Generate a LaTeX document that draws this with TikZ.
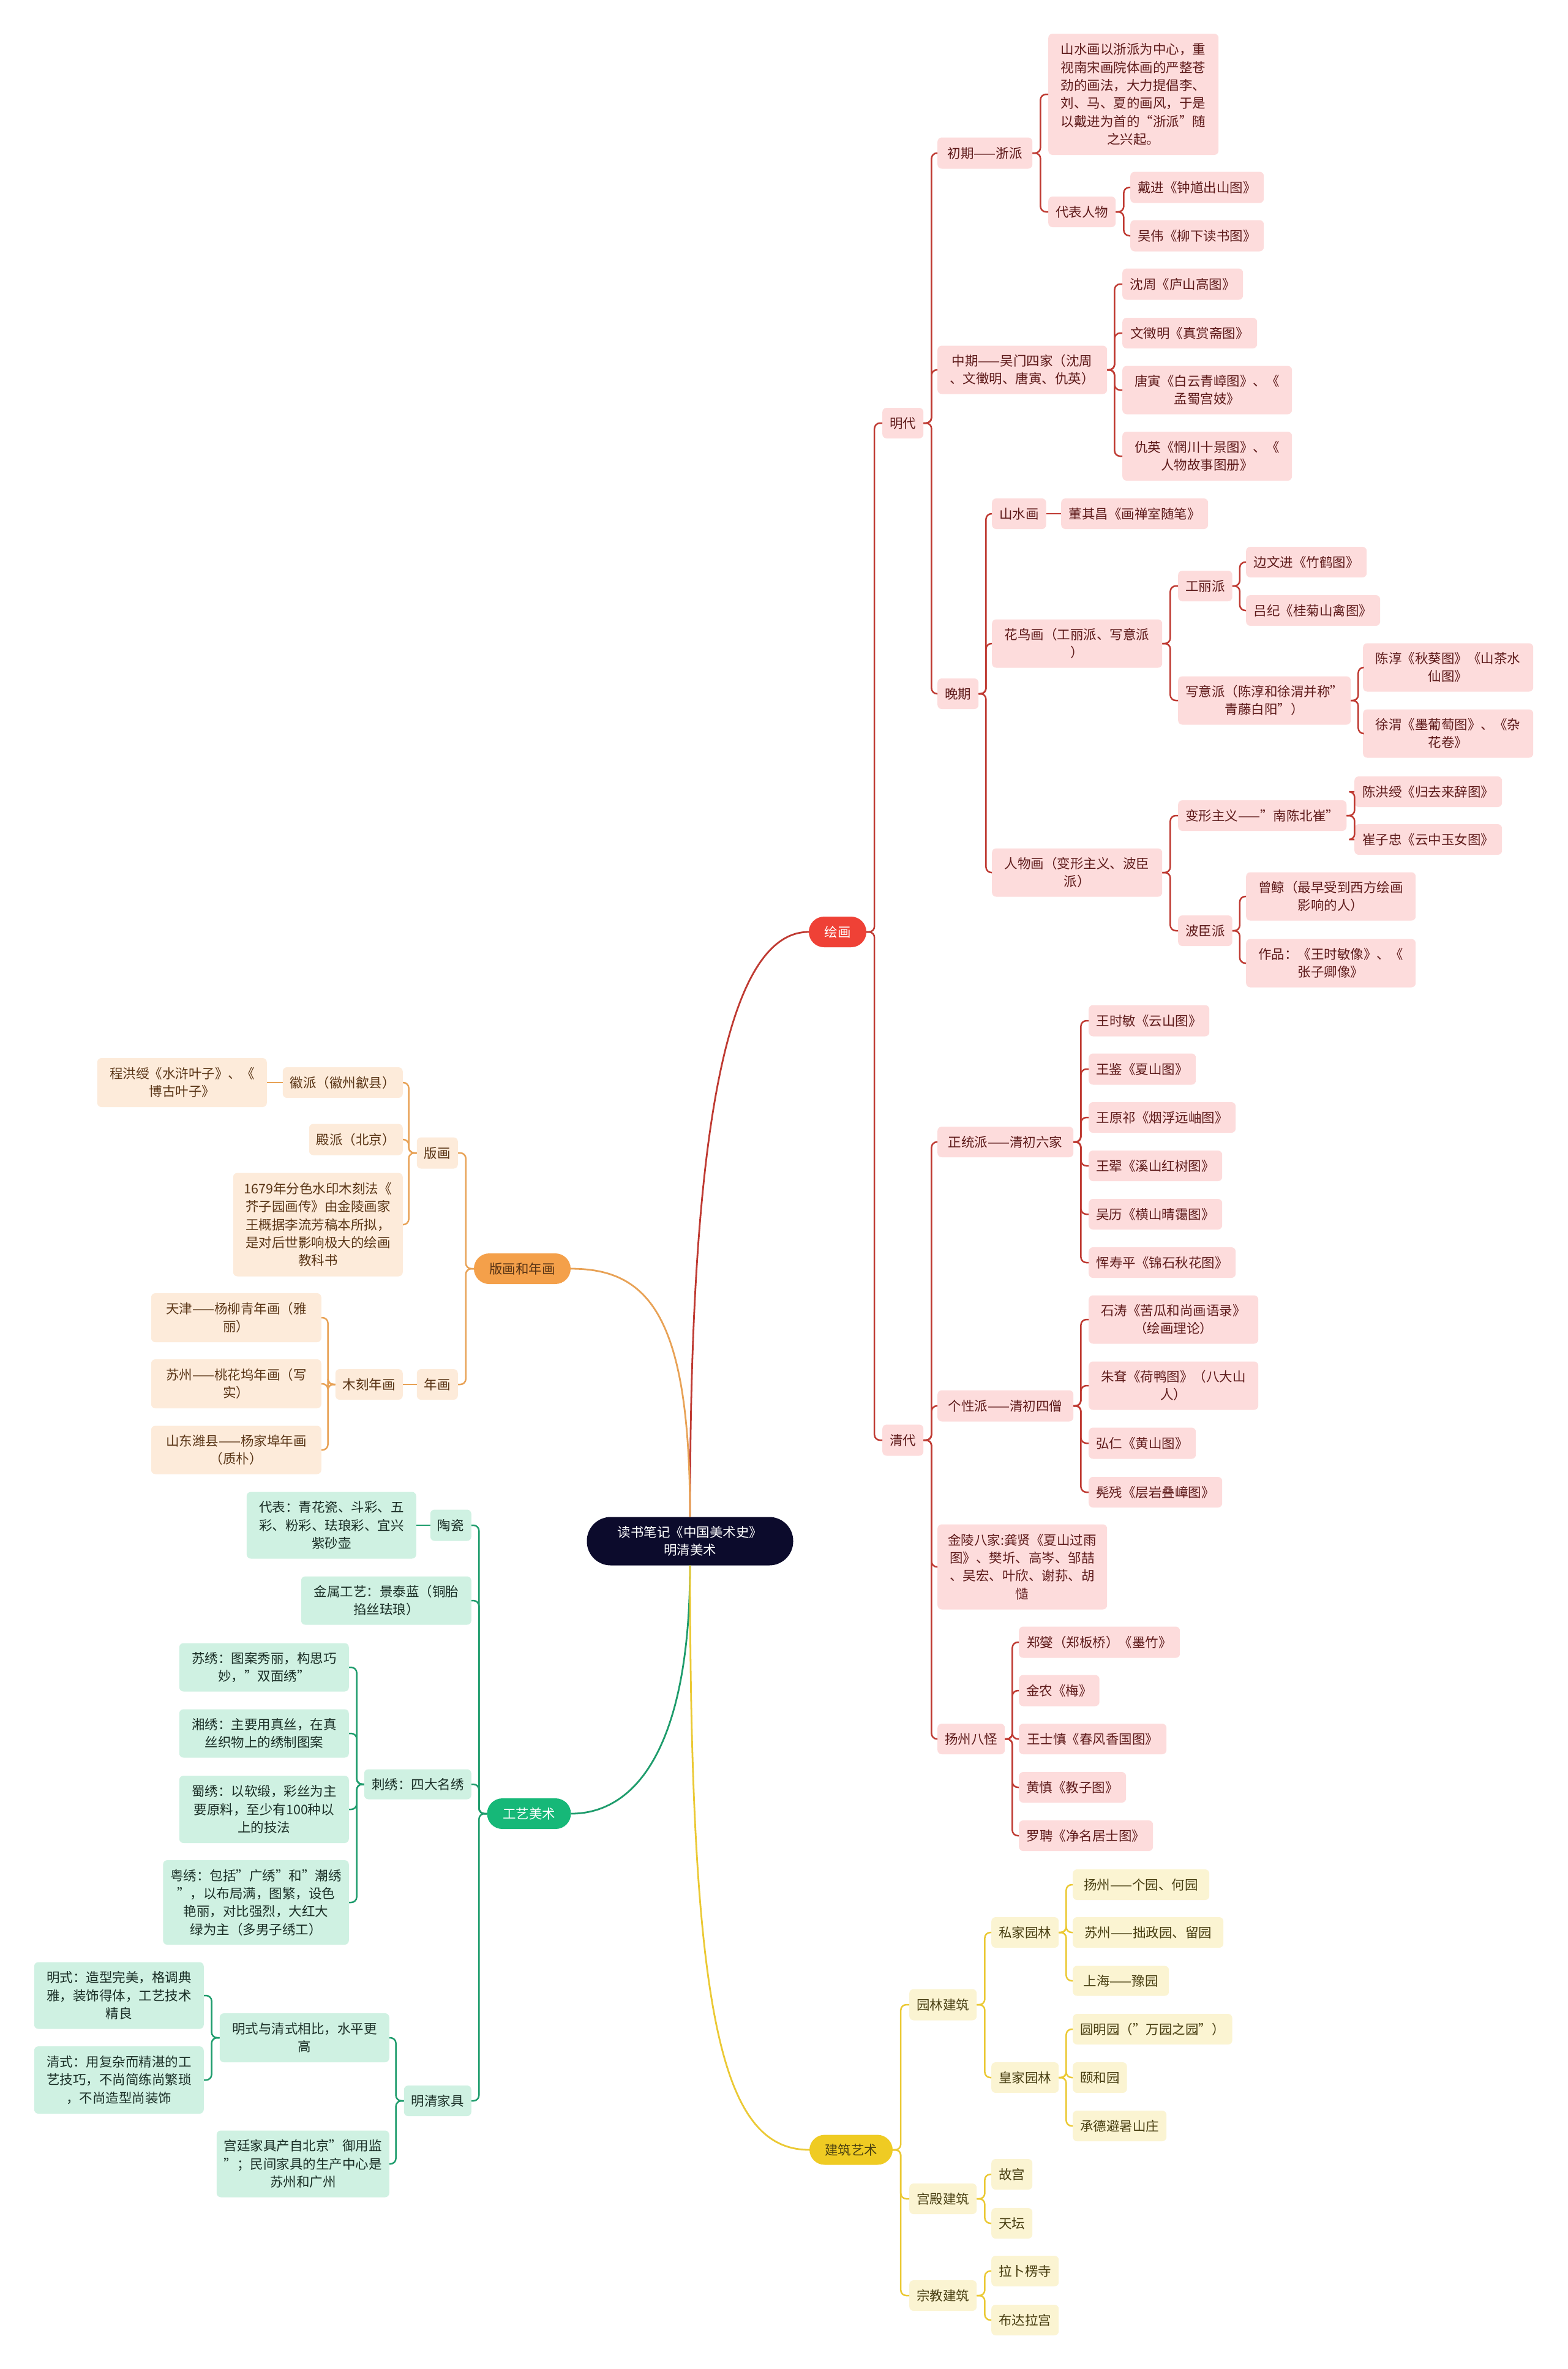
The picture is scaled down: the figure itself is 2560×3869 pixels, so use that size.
\documentclass[tikz,border=0pt]{standalone}
\usepackage{fontspec}
\setmainfont{Noto Sans CJK SC}
\definecolor{redmain}{HTML}{EF4136}
\definecolor{redline}{HTML}{BF3A32}
\definecolor{pinkfill}{HTML}{FDDCDC}
\definecolor{pinktext}{HTML}{5E1A1A}
\definecolor{orgmain}{HTML}{F4A04A}
\definecolor{orgline}{HTML}{E8A256}
\definecolor{orgfill}{HTML}{FDEBDA}
\definecolor{orgtext}{HTML}{5A3516}
\definecolor{grnmain}{HTML}{16B878}
\definecolor{grnline}{HTML}{1E9C6C}
\definecolor{grnfill}{HTML}{CFF1E2}
\definecolor{grntext}{HTML}{1A2E26}
\definecolor{ylwmain}{HTML}{EFCB23}
\definecolor{ylwline}{HTML}{EBC934}
\definecolor{ylwfill}{HTML}{FBF4D2}
\definecolor{ylwtext}{HTML}{473D10}
\definecolor{navy}{HTML}{0C0B2C}
\tikzset{
  base/.style={rounded corners=7pt, inner xsep=12pt, inner ysep=5pt, align=center,
    font=\fontsize{21.5pt}{29.3pt}\selectfont},
  pk/.style={base, fill=pinkfill, text=pinktext},
  og/.style={base, fill=orgfill, text=orgtext},
  gn/.style={base, fill=grnfill, text=grntext},
  yw/.style={base, fill=ylwfill, text=ylwtext},
  sz/.style 2 args={minimum width=#1pt, minimum height=#2pt},
  rl/.style={draw=redline, line width=2.5pt, rounded corners=9pt},
  ol/.style={draw=orgline, line width=2.5pt, rounded corners=9pt},
  gl/.style={draw=grnline, line width=2.5pt, rounded corners=9pt},
  yl/.style={draw=ylwline, line width=2.5pt, rounded corners=9pt},
}
\begin{document}
\begin{tikzpicture}[x=1pt, y=-1pt]
\useasboundingbox[fill=white] (0,0) rectangle (2560,3869);

% ---------- center and main branches ----------
\node[base, fill=navy, text=white, rounded corners=39pt, sz={337}{79}] (root) at (1127,2517) {读书笔记《中国美术史》\\明清美术};
\node[base, fill=redmain, text=white, rounded corners=25pt, sz={94}{50}] (hh) at (1368,1522) {绘画};
\node[base, fill=orgmain, text=orgtext, rounded corners=25pt, sz={158}{50}] (bhnh) at (853,2072) {版画和年画};
\node[base, fill=grnmain, text=white, rounded corners=25pt, sz={137}{50}] (gyms) at (864,2962) {工艺美术};
\node[base, fill=ylwmain, text=ylwtext, rounded corners=25pt, sz={136}{49}] (jzys) at (1390,3511) {建筑艺术};

\draw[redline, line width=2.8pt] (root.north) .. controls (1127,2000) and (1160,1522) .. (hh.west);
\draw[orgline, line width=2.8pt] (root.north) .. controls (1127,2150) and (1060,2072) .. (bhnh.east);
\draw[grnline, line width=2.8pt] (root.south) .. controls (1127,2850) and (1040,2962) .. (gyms.east);
\draw[ylwline, line width=2.8pt] (root.south) .. controls (1127,3300) and (1180,3511) .. (jzys.west);

% ---------- 绘画 ----------
\node[pk, anchor=west, sz={64}{50}] (md) at (1441,691) {明代};
\node[pk, anchor=west, sz={155}{51}] (cq) at (1531,250) {初期——浙派};
\node[pk, anchor=west, sz={278}{198}] (szh) at (1712,154) {山水画以浙派为中心，重\\视南宋画院体画的严整苍\\劲的画法，大力提倡李、\\刘、马、夏的画风，于是\\以戴进为首的“浙派”随\\之兴起。};
\node[pk, anchor=west, sz={108}{50}] (dbrw) at (1712,346) {代表人物};
\node[pk, anchor=west, sz={218}{51}] (dj) at (1846,306) {戴进《钟馗出山图》};
\node[pk, anchor=west, sz={218}{51}] (ww) at (1846,385) {吴伟《柳下读书图》};
\node[pk, anchor=west, sz={277}{79}] (zq) at (1531,604) {中期——吴门四家（沈周\\、文徵明、唐寅、仇英）};
\node[pk, anchor=west, sz={197}{51}] (szhou) at (1833,464) {沈周《庐山高图》};
\node[pk, anchor=west, sz={220}{50}] (wzm) at (1833,544) {文徵明《真赏斋图》};
\node[pk, anchor=west, sz={277}{79}] (ty) at (1833,637) {唐寅《白云青嶂图》、《\\孟蜀宫妓》};
\node[pk, anchor=west, sz={277}{80}] (qy) at (1833,745) {仇英《惘川十景图》、《\\人物故事图册》};
\node[pk, anchor=west, sz={64}{50}] (wq) at (1531,1133) {晚期};
\node[pk, anchor=west, sz={87}{50}] (ssh) at (1620,839) {山水画};
\node[pk, anchor=west, sz={240}{50}] (dqc) at (1733,839) {董其昌《画禅室随笔》};
\node[pk, anchor=west, sz={278}{79}] (hnh) at (1620,1051) {花鸟画（工丽派、写意派\\）};
\node[pk, anchor=west, sz={86}{50}] (glp) at (1924,957) {工丽派};
\node[pk, anchor=west, sz={197}{50}] (bwj) at (2035,918) {边文进《竹鹤图》};
\node[pk, anchor=west, sz={219}{50}] (lj) at (2035,997) {吕纪《桂菊山禽图》};
\node[pk, anchor=west, sz={277}{79}] (xyp) at (1924,1144) {写意派（陈淳和徐渭并称"\\青藤白阳"）};
\node[pk, anchor=west, sz={278}{79}] (cc) at (2226,1090) {陈淳《秋葵图》《山茶水\\仙图》};
\node[pk, anchor=west, sz={278}{79}] (xw) at (2226,1198) {徐渭《墨葡萄图》、《杂\\花卷》};
\node[pk, anchor=west, sz={278}{79}] (rwh) at (1620,1425) {人物画（变形主义、波臣\\派）};
\node[pk, anchor=west, sz={262}{50}] (bxzy) at (1924,1332) {变形主义——"南陈北崔"};
\node[pk, anchor=west, sz={241}{50}] (chs) at (2212,1293) {陈洪绶《归去来辞图》};
\node[pk, anchor=west, sz={241}{50}] (czz) at (2212,1371) {崔子忠《云中玉女图》};
\node[pk, anchor=west, sz={86}{50}] (bcp) at (1924,1520) {波臣派};
\node[pk, anchor=west, sz={277}{79}] (zj) at (2035,1464) {曾鲸（最早受到西方绘画\\影响的人）};
\node[pk, anchor=west, sz={277}{79}] (zp) at (2035,1573) {作品：《王时敏像》、《\\张子卿像》};

\node[pk, anchor=west, sz={64}{51}] (qd) at (1441,2352) {清代};
\node[pk, anchor=west, sz={222}{50}] (ztp) at (1531,1865) {正统派——清初六家};
\node[pk, anchor=west, sz={197}{51}] (wsm) at (1778,1667) {王时敏《云山图》};
\node[pk, anchor=west, sz={175}{51}] (wj) at (1778,1746) {王鉴《夏山图》};
\node[pk, anchor=west, sz={240}{50}] (wyq) at (1778,1825) {王原祁《烟浮远岫图》};
\node[pk, anchor=west, sz={218}{50}] (wh) at (1778,1904) {王翚《溪山红树图》};
\node[pk, anchor=west, sz={218}{50}] (wl) at (1778,1983) {吴历《横山晴霭图》};
\node[pk, anchor=west, sz={240}{50}] (ysp) at (1778,2062) {恽寿平《锦石秋花图》};
\node[pk, anchor=west, sz={222}{51}] (gxp) at (1531,2296) {个性派——清初四僧};
\node[pk, anchor=west, sz={277}{79}] (st) at (1778,2155) {石涛《苦瓜和尚画语录》\\（绘画理论）};
\node[pk, anchor=west, sz={277}{79}] (zd) at (1778,2263) {朱耷《荷鸭图》（八大山\\人）};
\node[pk, anchor=west, sz={175}{51}] (hr) at (1778,2357) {弘仁《黄山图》};
\node[pk, anchor=west, sz={218}{50}] (kc) at (1778,2437) {髡残《层岩叠嶂图》};
\node[pk, anchor=west, sz={277}{139}] (jl) at (1531,2559) {金陵八家:龚贤《夏山过雨\\图》、樊圻、高岑、邹喆\\、吴宏、叶欣、谢荪、胡\\慥};
\node[pk, anchor=west, sz={108}{50}] (yzbg) at (1531,2840) {扬州八怪};
\node[pk, anchor=west, sz={263}{51}] (zx) at (1664,2682) {郑燮（郑板桥）《墨竹》};
\node[pk, anchor=west, sz={131}{51}] (jn) at (1664,2761) {金农《梅》};
\node[pk, anchor=west, sz={241}{50}] (wss) at (1664,2840) {王士慎《春风香国图》};
\node[pk, anchor=west, sz={175}{50}] (hs) at (1664,2919) {黄慎《教子图》};
\node[pk, anchor=west, sz={219}{50}] (lp) at (1664,2998) {罗聘《净名居士图》};

\foreach \c in {md,qd} \draw[rl] (hh.east) -- ++(13,0) |- (\c.west);
\foreach \c in {cq,zq,wq} \draw[rl] (md.east) -- ++(13,0) |- (\c.west);
\foreach \c in {szh,dbrw} \draw[rl] (cq.east) -- ++(13,0) |- (\c.west);
\foreach \c in {dj,ww} \draw[rl] (dbrw.east) -- ++(13,0) |- (\c.west);
\foreach \c in {szhou,wzm,ty,qy} \draw[rl] (zq.east) -- ++(12,0) |- (\c.west);
\foreach \c in {ssh,hnh,rwh} \draw[rl] (wq.east) -- ++(12,0) |- (\c.west);
\draw[rl] (ssh.east) -- (dqc.west);
\foreach \c in {glp,xyp} \draw[rl] (hnh.east) -- ++(13,0) |- (\c.west);
\foreach \c in {bwj,lj} \draw[rl] (glp.east) -- ++(12,0) |- (\c.west);
\foreach \c in {cc,xw} \draw[rl] (xyp.east) -- ++(12,0) |- (\c.west);
\foreach \c in {bxzy,bcp} \draw[rl] (rwh.east) -- ++(13,0) |- (\c.west);
\foreach \c in {chs,czz} \draw[rl] (bxzy.east) -- ++(13,0) |- (\c.west);
\foreach \c in {zj,zp} \draw[rl] (bcp.east) -- ++(12,0) |- (\c.west);
\foreach \c in {ztp,gxp,jl,yzbg} \draw[rl] (qd.east) -- ++(13,0) |- (\c.west);
\foreach \c in {wsm,wj,wyq,wh,wl,ysp} \draw[rl] (ztp.east) -- ++(12,0) |- (\c.west);
\foreach \c in {st,zd,hr,kc} \draw[rl] (gxp.east) -- ++(12,0) |- (\c.west);
\foreach \c in {zx,jn,wss,hs,lp} \draw[rl] (yzbg.east) -- ++(12,0) |- (\c.west);

% ---------- 建筑艺术 ----------
\node[yw, anchor=west, sz={108}{51}] (yljz) at (1485,3274) {园林建筑};
\node[yw, anchor=west, sz={109}{50}] (sjyl) at (1619,3156) {私家园林};
\node[yw, anchor=west, sz={223}{50}] (yzy) at (1752,3078) {扬州——个园、何园};
\node[yw, anchor=west, sz={246}{50}] (szy) at (1752,3156) {苏州——拙政园、留园};
\node[yw, anchor=west, sz={157}{49}] (shy) at (1752,3235) {上海——豫园};
\node[yw, anchor=west, sz={109}{50}] (hjyl) at (1619,3393) {皇家园林};
\node[yw, anchor=west, sz={239}{50}] (ymy) at (1752,3314) {圆明园（"万园之园"）};
\node[yw, anchor=west, sz={87}{50}] (yhy) at (1752,3393) {颐和园};
\node[yw, anchor=west, sz={153}{50}] (cd) at (1752,3472) {承德避暑山庄};
\node[yw, anchor=west, sz={108}{50}] (gdjz) at (1485,3591) {宫殿建筑};
\node[yw, anchor=west, sz={64}{50}] (gg) at (1619,3551) {故宫};
\node[yw, anchor=west, sz={64}{50}] (tt) at (1619,3631) {天坛};
\node[yw, anchor=west, sz={108}{50}] (zjjz) at (1485,3749) {宗教建筑};
\node[yw, anchor=west, sz={109}{50}] (lblq) at (1619,3709) {拉卜楞寺};
\node[yw, anchor=west, sz={109}{50}] (bdlg) at (1619,3789) {布达拉宫};

\foreach \c in {yljz,gdjz,zjjz} \draw[yl] (jzys.east) -- ++(13,0) |- (\c.west);
\foreach \c in {sjyl,hjyl} \draw[yl] (yljz.east) -- ++(13,0) |- (\c.west);
\foreach \c in {yzy,szy,shy} \draw[yl] (sjyl.east) -- ++(12,0) |- (\c.west);
\foreach \c in {ymy,yhy,cd} \draw[yl] (hjyl.east) -- ++(12,0) |- (\c.west);
\foreach \c in {gg,tt} \draw[yl] (gdjz.east) -- ++(13,0) |- (\c.west);
\foreach \c in {lblq,bdlg} \draw[yl] (zjjz.east) -- ++(13,0) |- (\c.west);

% ---------- 版画和年画 ----------
\node[og, anchor=east, sz={64}{51}] (bh) at (748,1883) {版画};
\node[og, anchor=east, sz={196}{50}] (hp) at (658,1768) {徽派（徽州歙县）};
\node[og, anchor=east, sz={277}{80}] (chx) at (436,1768) {程洪绶《水浒叶子》、《\\博古叶子》};
\node[og, anchor=east, sz={152}{51}] (dp) at (658,1861) {殿派（北京）};
\node[og, anchor=east, sz={277}{169}] (nb) at (658,2000) {1679年分色水印木刻法《\\芥子园画传》由金陵画家\\王概据李流芳稿本所拟，\\是对后世影响极大的绘画\\教科书};
\node[og, anchor=east, sz={64}{50}] (nh) at (748,2261) {年画};
\node[og, anchor=east, sz={109}{50}] (mknh) at (658,2261) {木刻年画};
\node[og, anchor=east, sz={278}{80}] (tj) at (525,2152) {天津——杨柳青年画（雅\\丽）};
\node[og, anchor=east, sz={278}{80}] (szn) at (525,2260) {苏州——桃花坞年画（写\\实）};
\node[og, anchor=east, sz={278}{79}] (sdw) at (525,2368) {山东潍县——杨家埠年画\\（质朴）};

\foreach \c in {bh,nh} \draw[ol] (bhnh.west) -- ++(-13,0) |- (\c.east);
\foreach \c in {hp,dp,nb} \draw[ol] (bh.west) -- ++(-13,0) |- (\c.east);
\draw[ol] (hp.west) -- (chx.east);
\draw[ol] (nh.west) -- (mknh.east);
\foreach \c in {tj,szn,sdw} \draw[ol] (mknh.west) -- ++(-12,0) |- (\c.east);

% ---------- 工艺美术 ----------
\node[gn, anchor=east, sz={64}{51}] (tc) at (770,2491) {陶瓷};
\node[gn, anchor=east, sz={277}{109}] (db) at (680,2491) {代表：青花瓷、斗彩、五\\彩、粉彩、珐琅彩、宜兴\\紫砂壶};
\node[gn, anchor=east, sz={278}{79}] (js) at (770,2614) {金属工艺：景泰蓝（铜胎\\掐丝珐琅）};
\node[gn, anchor=east, sz={175}{49}] (cx) at (770,2914) {刺绣：四大名绣};
\node[gn, anchor=east, sz={277}{79}] (sx) at (570,2723) {苏绣：图案秀丽，构思巧\\妙，"双面绣"};
\node[gn, anchor=east, sz={277}{79}] (xx) at (570,2831) {湘绣：主要用真丝，在真\\丝织物上的绣制图案};
\node[gn, anchor=east, sz={277}{110}] (shx) at (570,2955) {蜀绣：以软缎，彩丝为主\\要原料，至少有100种以\\上的技法};
\node[gn, anchor=east, sz={277}{138}] (yx) at (570,3107) {粤绣：包括"广绣"和"潮绣\\"，以布局满，图繁，设色\\艳丽，对比强烈，大红大\\绿为主（多男子绣工）};
\node[gn, anchor=east, sz={108}{50}] (mqjj) at (770,3431) {明清家具};
\node[gn, anchor=east, sz={277}{80}] (msqs) at (636,3328) {明式与清式相比，水平更\\高};
\node[gn, anchor=east, sz={277}{109}] (gtjj) at (636,3534) {宫廷家具产自北京"御用监\\"；民间家具的生产中心是\\苏州和广州};
\node[gn, anchor=east, sz={277}{109}] (ms) at (333,3259) {明式：造型完美，格调典\\雅，装饰得体，工艺技术\\精良};
\node[gn, anchor=east, sz={277}{110}] (qs) at (333,3397) {清式：用复杂而精湛的工\\艺技巧，不尚简练尚繁琐\\，不尚造型尚装饰};

\foreach \c in {tc,js,cx,mqjj} \draw[gl] (gyms.west) -- ++(-13,0) |- (\c.east);
\draw[gl] (tc.west) -- (db.east);
\foreach \c in {sx,xx,shx,yx} \draw[gl] (cx.west) -- ++(-12,0) |- (\c.east);
\foreach \c in {msqs,gtjj} \draw[gl] (mqjj.west) -- ++(-13,0) |- (\c.east);
\foreach \c in {ms,qs} \draw[gl] (msqs.west) -- ++(-13,0) |- (\c.east);
\end{tikzpicture}
\end{document}
